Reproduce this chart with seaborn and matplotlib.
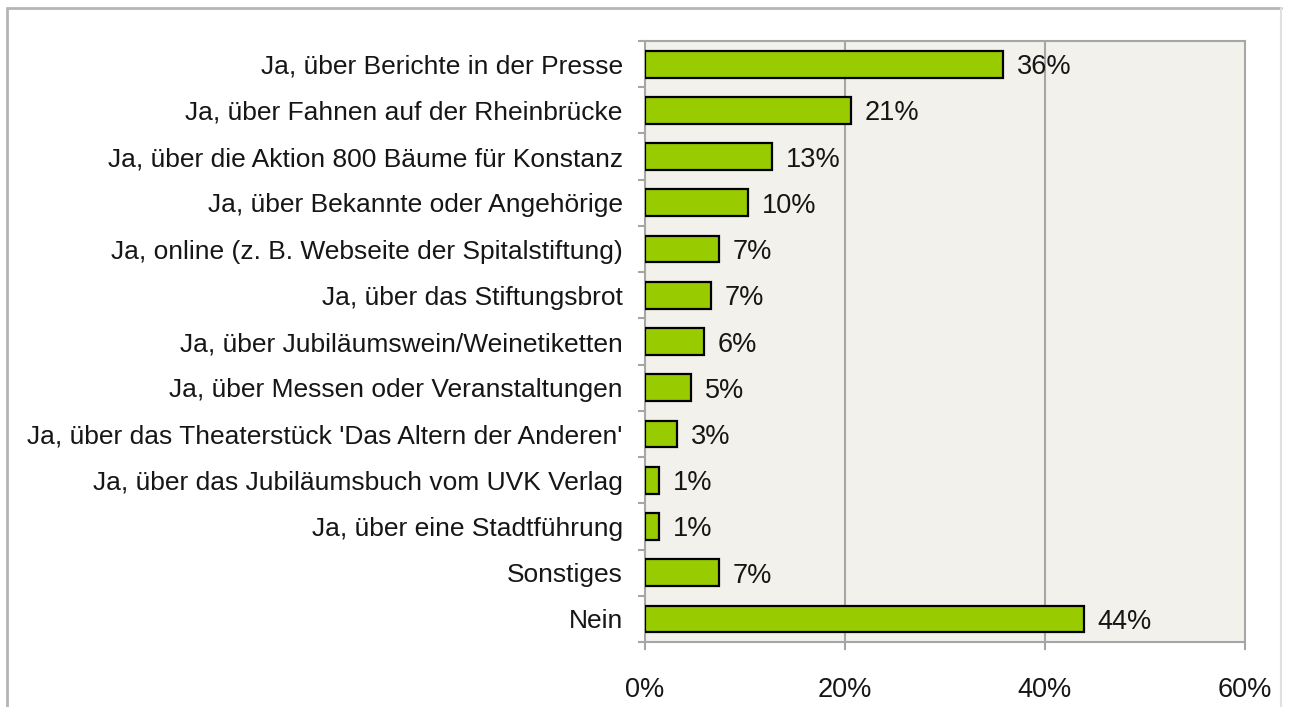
import matplotlib
matplotlib.use("Agg")
import matplotlib.pyplot as plt
from matplotlib.lines import Line2D
from matplotlib.ticker import FixedLocator
import seaborn as sns
import pandas as pd

categories = [
    "Ja, über Berichte in der Presse",
    "Ja, über Fahnen auf der Rheinbrücke",
    "Ja, über die Aktion 800 Bäume für Konstanz",
    "Ja, über Bekannte oder Angehörige",
    "Ja, online (z. B. Webseite der Spitalstiftung)",
    "Ja, über das Stiftungsbrot",
    "Ja, über Jubiläumswein/Weinetiketten",
    "Ja, über Messen oder Veranstaltungen",
    "Ja, über das Theaterstück 'Das Altern der Anderen'",
    "Ja, über das Jubiläumsbuch vom UVK Verlag",
    "Ja, über eine Stadtführung",
    "Sonstiges",
    "Nein",
]
shares = [35.8, 20.6, 12.7, 10.3, 7.4, 6.6, 5.9, 4.6, 3.2, 1.4, 1.4, 7.4, 43.9]
x_ticks = [0, 20, 40, 60]
x_tick_labels = ["0%", "20%", "40%", "60%"]

df = pd.DataFrame({"Kategorie": categories, "Anteil": shares})

sns.set_style("white")
plt.rcParams["font.family"] = ["Liberation Sans", "DejaVu Sans"]

grey = "#A6A6A6"
text_col = "#161616"
fig = plt.figure(figsize=(12.9, 7.07), dpi=100)
fig.patch.set_facecolor("white")
ax = fig.add_axes([0.5, 0.0919, 0.4651, 0.8501])
ax.set_facecolor("#F2F1EB")

sns.barplot(data=df, y="Kategorie", x="Anteil", orient="h", color="#99CC00",
            saturation=1, width=0.58, edgecolor="black", linewidth=1.6,
            ax=ax, zorder=3)

ax.set_xlim(0, 60)
ax.set_ylim(len(categories) - 0.5, -0.5)
ax.set_xticks(x_ticks)
ax.set_xticklabels(x_tick_labels)
ax.set_xlabel("")
ax.set_ylabel("")

for x in x_ticks[1:-1]:
    ax.axvline(x, color=grey, lw=1.5, zorder=1)

for s in ax.spines.values():
    s.set_color(grey)
    s.set_linewidth(1.5)
    s.set_visible(True)

ax.yaxis.set_minor_locator(FixedLocator([i - 0.5 for i in range(len(categories) + 1)]))
ax.tick_params(axis="y", which="major", length=0, pad=16, labelsize=19, labelcolor=text_col)
ax.tick_params(axis="y", which="minor", length=5, width=1.5, color=grey, direction="out")
ax.tick_params(axis="x", which="major", length=6, width=1.5, color=grey, direction="out",
               pad=19, labelsize=19.5, labelcolor=text_col)
ax.tick_params(left=True, bottom=True)
ax.tick_params(axis="y", which="minor", left=True)

labels = [f"{round(v)}%" for v in shares]
value_texts = ax.bar_label(ax.containers[0], labels=labels, padding=10, fontsize=19.5,
                           color=text_col)
for t in value_texts:
    t.set_verticalalignment("center_baseline")

# outer frame around the chart
frame_kw = dict(color="#B5B5B5", lw=2, transform=fig.transFigure)
fig.add_artist(Line2D([7 / 1290, 1281 / 1290], [1 - 8 / 707, 1 - 8 / 707], **frame_kw))
fig.add_artist(Line2D([7 / 1290, 7 / 1290], [0, 1 - 8 / 707], **frame_kw))
fig.add_artist(Line2D([1281 / 1290, 1281 / 1290], [0, 1 - 8 / 707], color="#E0E0E0", lw=1.5,
                      transform=fig.transFigure))

fig.savefig("out.png", dpi=100)
